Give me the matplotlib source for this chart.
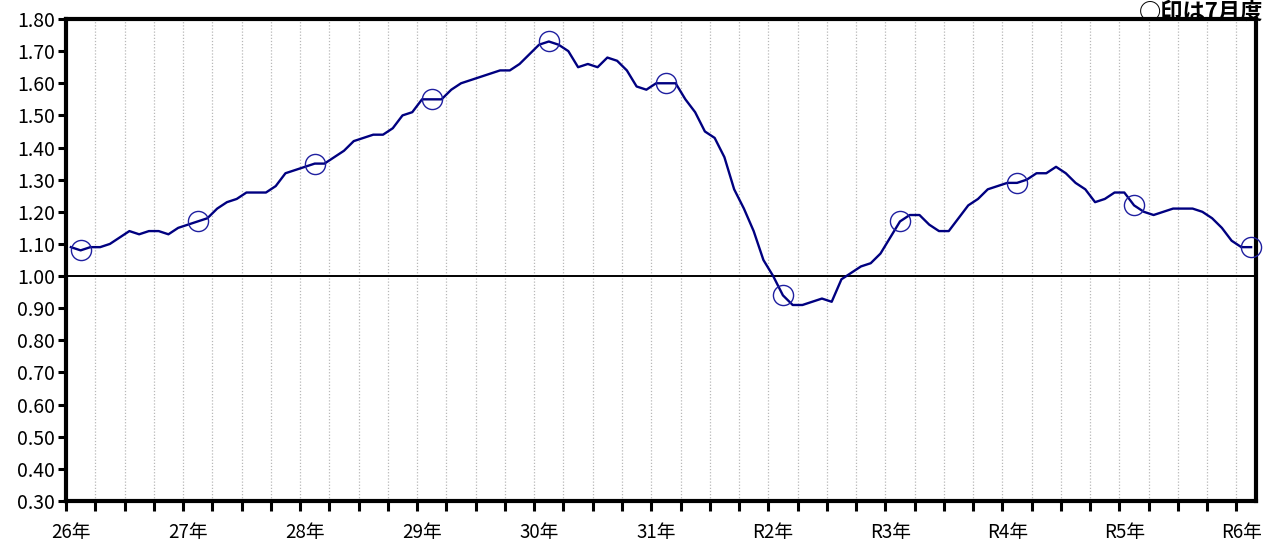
import matplotlib
matplotlib.use("Agg")
import matplotlib.pyplot as plt
import numpy as np

plt.rcParams['font.family'] = ['Noto Sans CJK JP', 'DejaVu Sans']

# Monthly ratio values (starting June of 26年, ending July of R6年)
values = [
    1.09, 1.08, 1.09, 1.09, 1.10, 1.12, 1.14, 1.13, 1.14, 1.14, 1.13, 1.15,
    1.16, 1.17, 1.18, 1.21, 1.23, 1.24, 1.26, 1.26, 1.26, 1.28, 1.32, 1.33,
    1.34, 1.35, 1.35, 1.37, 1.39, 1.42, 1.43, 1.44, 1.44, 1.46, 1.50, 1.51,
    1.55, 1.55, 1.55, 1.58, 1.60, 1.61, 1.62, 1.63, 1.64, 1.64, 1.66, 1.69,
    1.72, 1.73, 1.72, 1.70, 1.65, 1.66, 1.65, 1.68, 1.67, 1.64, 1.59, 1.58,
    1.60, 1.60, 1.60, 1.55, 1.51, 1.45, 1.43, 1.37, 1.27, 1.21, 1.14, 1.05,
    1.00, 0.94, 0.91, 0.91, 0.92, 0.93, 0.92, 0.99, 1.01, 1.03, 1.04, 1.07,
    1.12, 1.17, 1.19, 1.19, 1.16, 1.14, 1.14, 1.18, 1.22, 1.24, 1.27, 1.28,
    1.29, 1.29, 1.30, 1.32, 1.32, 1.34, 1.32, 1.29, 1.27, 1.23, 1.24, 1.26,
    1.26, 1.22, 1.20, 1.19, 1.20, 1.21, 1.21, 1.21, 1.20, 1.18, 1.15, 1.11,
    1.09, 1.09,
]
year_labels = ['26年', '27年', '28年', '29年', '30年', '31年',
               'R2年', 'R3年', 'R4年', 'R5年', 'R6年']
july_offset = 1          # July is the 2nd month in the series
label_offset = 0         # year labels sit on the first month of each year
note_text = '○印は7月度'

n = len(values)
x = np.arange(n)

fig = plt.figure(figsize=(12.65, 5.45), dpi=100)
ax = fig.add_axes([66/1265, 1-501/545, (1256-66)/1265, (501-19)/545])

# vertical dotted grid every 3 months
tick_pos = np.arange(-0.5, n - 1, 3)
for tp in tick_pos[1:]:
    ax.axvline(tp, color='#b8b8b8', lw=0.9, ls=(0, (1, 1.5)), zorder=1)

ax.axhline(1.0, color='black', lw=1.4, zorder=2)

ax.plot(x, values, color='#000080', lw=1.7, zorder=3)
jx = x[july_offset::12]
jy = np.array(values)[july_offset::12]
ax.plot(jx, jy, ls='none', marker='o', ms=14.5, mfc='none',
        mec='#2020a0', mew=1.0, zorder=4, clip_on=False)

ax.set_xlim(-0.5, n - 0.5)
ax.set_ylim(0.30, 1.80)
ax.set_yticks(np.round(np.arange(0.30, 1.801, 0.10), 2))
ax.set_yticklabels([f'{v:.2f}' for v in np.arange(0.30, 1.801, 0.10)])

ax.set_xticks(tick_pos)
ax.set_xticklabels([])
ax.set_xticks(np.arange(label_offset, n, 12), minor=True)
ax.set_xticklabels(year_labels, minor=True)
ax.tick_params(axis='x', which='minor', length=0, pad=15, labelsize=13.5)
ax.tick_params(axis='x', which='major', length=7, width=2.2, direction='out')
ax.tick_params(axis='y', length=6, width=2.2, direction='out', labelsize=14, pad=2)

for s in ax.spines.values():
    s.set_linewidth(3)
    s.set_color('black')

fig.text(1263/1265, 1 - 0.5/545, note_text, ha='right', va='top',
         fontsize=16, fontweight='bold')

fig.savefig('out.png', dpi=100)
